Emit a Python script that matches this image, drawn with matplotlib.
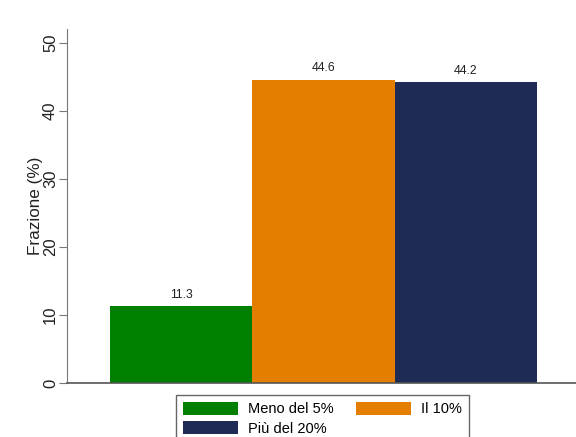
import numpy as np
import matplotlib
matplotlib.use("Agg")
import matplotlib.pyplot as plt
from matplotlib.patches import Patch

plt.rcParams['font.family'] = ['Liberation Sans', 'DejaVu Sans']

# dati
categorie = ['Meno del 5%', 'Il 10%', 'Più del 20%']
valori = [11.3, 44.6, 44.2]
colori = ['#007F00', '#E37E00', '#1E2B55']
yticks = [0, 10, 20, 30, 40, 50]

W, H = 576, 437
fig = plt.figure(figsize=(W / 100, H / 100), dpi=100)

# posizione assi in pixel
left, right, bottom = 67, 576, 383
ymax = 52
px_per_unit = 6.8
top = bottom - ymax * px_per_unit
ax = fig.add_axes([left / W, 1 - bottom / H, (right - left) / W, (bottom - top) / H])

x = np.arange(len(valori))
ax.bar(x, valori, width=1.0, color=colori, edgecolor='none')

for xi, v in zip(x, valori):
    ax.annotate(f"{v:.1f}", (xi, v), xytext=(0, 4), textcoords='offset points',
                ha='center', va='bottom', fontsize=8.8, color='#222222')

ax.set_xlim(-0.802, 2.774)
ax.set_ylim(0, ymax)
ax.set_xticks([])
ax.set_yticks(yticks)
ax.set_yticklabels([str(t) for t in yticks], rotation=90, va='center', fontsize=12)
ax.tick_params(axis='y', length=6, color='#777777', pad=0.5, labelcolor='#222222')
ax.set_ylabel('Frazione (%)', fontsize=12.3, color='#222222', labelpad=0)

for s in ['top', 'right']:
    ax.spines[s].set_visible(False)
ax.spines['left'].set_color('#777777')
ax.spines['bottom'].set_color('#555555')
ax.spines['bottom'].set_linewidth(1.2)

# ordine per riempire le righe: Meno | Il 10% / Più del 20%
ordine = [0, 2, 1]
handles = [Patch(facecolor=colori[i], edgecolor='none') for i in ordine]
etichette = [categorie[i] for i in ordine]
leg = fig.legend(handles, etichette, loc='upper left',
                 bbox_to_anchor=(176 / W, 1 - 395 / H), ncol=2,
                 fontsize=10.5, handlelength=3.8, handleheight=1.0,
                 columnspacing=1.5, handletextpad=0.7, borderpad=0.45,
                 labelspacing=0.35, borderaxespad=0, fancybox=False,
                 framealpha=1, edgecolor='#666666')
leg.get_frame().set_linewidth(1.0)

fig.savefig('out.png', dpi=100)
